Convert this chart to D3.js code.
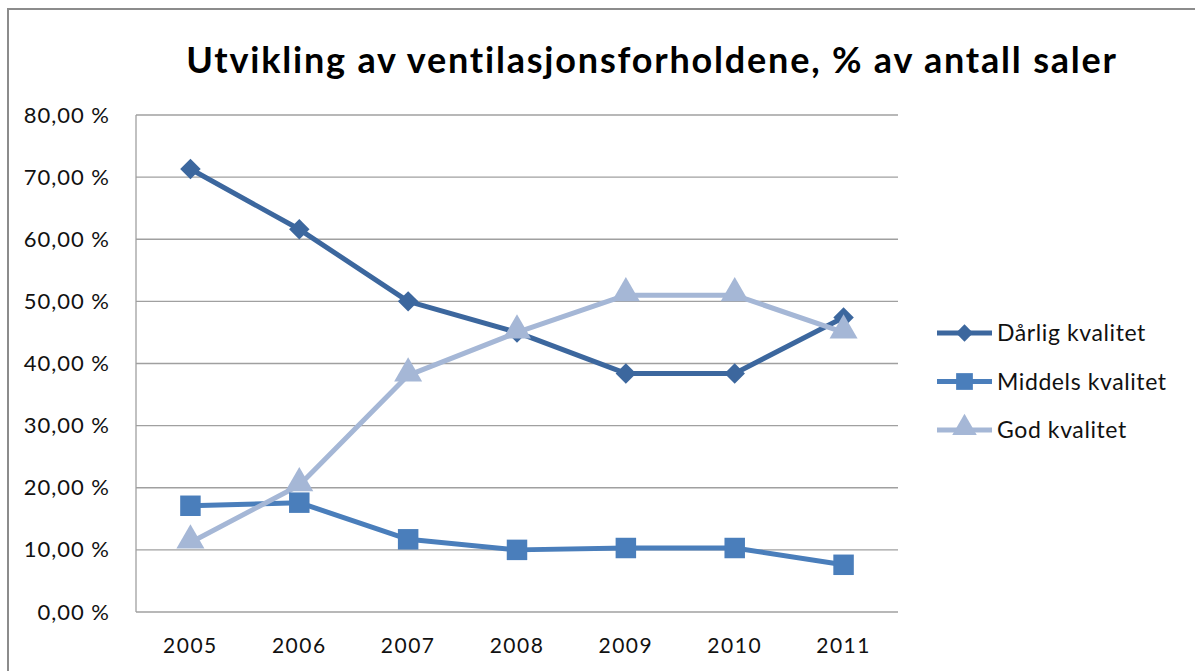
<!DOCTYPE html>
<html>
<head>
<meta charset="utf-8">
<script src="https://cdn.jsdelivr.net/npm/d3@7"></script>
<style>
  body { margin: 0; background: #fff; }
  svg { display: block; font-family: Lato, "Open Sans", sans-serif; }
</style>
</head>
<body>
<div class="chart"></div>
<script>
var years = ["2005", "2006", "2007", "2008", "2009", "2010", "2011"];
var darlig = [71.3, 61.6, 50.0, 45.0, 38.4, 38.4, 47.4];
var middels = [17.1, 17.6, 11.7, 10.0, 10.3, 10.3, 7.6];
var god = [11.2, 20.4, 38.1, 45.0, 51.0, 51.0, 45.0];
var yTicks = [0, 10, 20, 30, 40, 50, 60, 70, 80];
var seriesNames = ["Dårlig kvalitet", "Middels kvalitet", "God kvalitet"];

var w = 1195;
var h = 671;
var plotLeft = 136, plotRight = 898, plotTop = 115, plotBottom = 612;

// rotate: 45 turns the square into the Excel-style diamond
var series = [
    {name: seriesNames[0], values: darlig, color: "#3c679e", shape: d3.symbolSquare, rotate: 45, size: 210, legendSize: 150, dy: 0},
    {name: seriesNames[1], values: middels, color: "#4a7ebb", shape: d3.symbolSquare, rotate: 0, size: 420, legendSize: 280, dy: 0},
    {name: seriesNames[2], values: god, color: "#a5b7d6", shape: d3.symbolTriangle, rotate: 0, size: 340, legendSize: 260, dy: -2}
];

var svg = d3.select(".chart")
            .append("svg")
            .attr("width", w)
            .attr("height", h);

// outer frame (cut off at right and bottom like in the screenshot)
svg.append("rect")
    .attr("x", 8).attr("y", 9)
    .attr("width", 1300).attr("height", 800)
    .attr("fill", "none")
    .attr("stroke", "#8c8c8c")
    .attr("stroke-width", 2);

var xScale = d3.scaleBand()
               .domain(years)
               .range([plotLeft, plotRight]);

var yScale = d3.scaleLinear()
               .domain([0, 80])
               .range([plotBottom, plotTop]);

// gridlines
svg.append("g")
    .selectAll("line")
    .data(yTicks)
    .enter()
    .append("line")
    .attr("x1", plotLeft).attr("x2", plotRight)
    .attr("y1", function(d){ return yScale(d); })
    .attr("y2", function(d){ return yScale(d); })
    .attr("stroke", "#a0a0a0")
    .attr("stroke-width", 1.3);

// left axis line
svg.append("line")
    .attr("x1", plotLeft).attr("x2", plotLeft)
    .attr("y1", plotTop).attr("y2", plotBottom)
    .attr("stroke", "#a0a0a0")
    .attr("stroke-width", 1.3);

var yAxis = d3.axisLeft(yScale)
              .tickValues(yTicks)
              .tickSize(0)
              .tickPadding(26)
              .tickFormat(function(d){ return d3.format(".2f")(d).replace(".", ",") + " %"; });

svg.append("g")
    .attr("transform", "translate(" + plotLeft + ",0)")
    .call(yAxis)
    .call(function(g){ g.select(".domain").remove(); })
    .selectAll("text")
    .style("font-family", "Lato, sans-serif")
    .style("font-size", "22px")
    .style("letter-spacing", "1px")
    .attr("fill", "#111");

var xAxis = d3.axisBottom(xScale)
              .tickSize(0)
              .tickPadding(26);

svg.append("g")
    .attr("transform", "translate(0," + plotBottom + ")")
    .call(xAxis)
    .call(function(g){ g.select(".domain").remove(); })
    .selectAll("text")
    .style("font-family", "Lato, sans-serif")
    .style("font-size", "21px")
    .style("letter-spacing", "1.5px")
    .attr("fill", "#111");

// title
svg.append("text")
    .attr("x", 652)
    .attr("y", 73)
    .attr("text-anchor", "middle")
    .style("font-family", "Lato, sans-serif")
    .style("font-weight", "bold")
    .style("font-size", "36px")
    .style("letter-spacing", "1.8px")
    .text("Utvikling av ventilasjonsforholdene, % av antall saler");

var line = d3.line()
             .x(function(d, i){ return xScale(years[i]) + xScale.bandwidth() / 2; })
             .y(function(d){ return yScale(d); });

series.forEach(function(s){
    svg.append("path")
        .datum(s.values)
        .attr("d", line)
        .attr("fill", "none")
        .attr("stroke", s.color)
        .attr("stroke-width", 5)
        .attr("stroke-linejoin", "round");
});

series.forEach(function(s){
    svg.append("g")
        .selectAll("path")
        .data(s.values)
        .enter()
        .append("path")
        .attr("d", d3.symbol().type(s.shape).size(s.size))
        .attr("transform", function(d, i){
            return "translate(" + (xScale(years[i]) + xScale.bandwidth() / 2) + "," + (yScale(d) + s.dy) + ") rotate(" + s.rotate + ")";
        })
        .attr("fill", s.color);
});

// legend
var legend = svg.append("g")
                .attr("transform", "translate(937,333)");

series.forEach(function(s, i){
    var g = legend.append("g").attr("transform", "translate(0," + (i * 48.5) + ")");
    g.append("line")
        .attr("x1", 0).attr("x2", 55)
        .attr("y1", 0).attr("y2", 0)
        .attr("stroke", s.color)
        .attr("stroke-width", 5);
    g.append("path")
        .attr("d", d3.symbol().type(s.shape).size(s.legendSize))
        .attr("transform", "translate(27.5," + s.dy + ") rotate(" + s.rotate + ")")
        .attr("fill", s.color);
    g.append("text")
        .attr("x", 60)
        .attr("y", 8)
        .style("font-family", "Lato, sans-serif")
        .style("font-size", "23px")
        .style("letter-spacing", "0.6px")
        .attr("fill", "#111")
        .text(s.name);
});
</script>
</body>
</html>
